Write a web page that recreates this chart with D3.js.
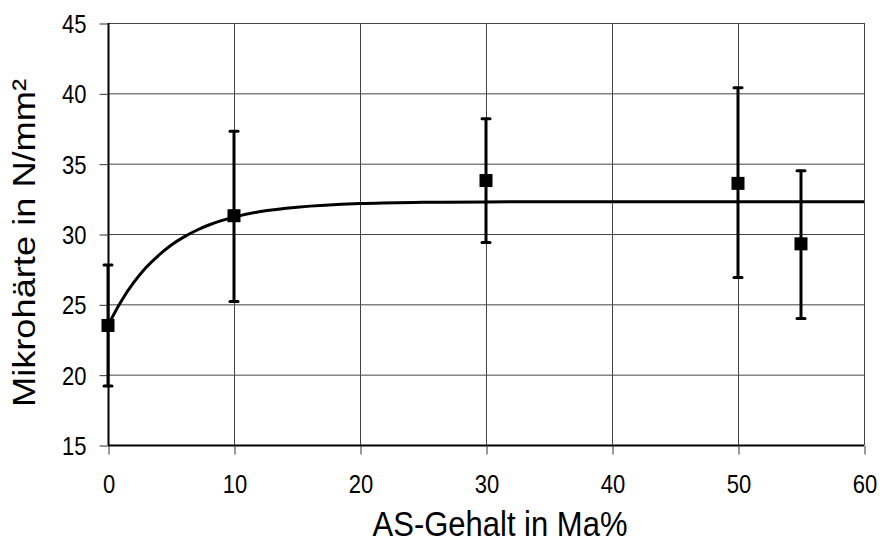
<!DOCTYPE html>
<html lang="de">
<head>
<meta charset="utf-8">
<title>Mikrohärte</title>
<script src="https://cdnjs.cloudflare.com/ajax/libs/d3/7.8.5/d3.min.js"></script>
<style>
  body { margin: 0; background: #fff; }
  svg text { font-family: "Liberation Sans", Arial, sans-serif; fill: #000; }
</style>
</head>
<body>
<div id="chart"></div>
<script>
// measured points (AS-Gehalt, Mikrohärte, error bar ends)
const xVals   = [0, 10, 30, 50, 55];
const yVals   = [23.5, 31.3, 33.8, 33.6, 29.3];
const errLow  = [19.2, 25.2, 29.4, 26.9, 24.0];
const errHigh = [27.8, 37.3, 38.2, 40.4, 34.5];

// trend line
const curveX = [0, 1, 2, 3, 4, 5, 6, 7, 8, 9, 10, 12, 15, 20, 25, 30, 40, 50, 60];
const curveY = [23.5, 25.15, 26.5, 27.6, 28.47, 29.2, 29.78, 30.25, 30.64, 30.95, 31.2, 31.58, 31.9, 32.16, 32.25, 32.28, 32.3, 32.3, 32.3];

const xTicks = [0, 10, 20, 30, 40, 50, 60];
const yTicks = [15, 20, 25, 30, 35, 40, 45];

const w = 880, h = 542;
const padL = 108, padR = 864, padT = 23, padB = 445;
const stretch = 1.15; // the source picture is a bit taller than wide

const x = d3.scaleLinear().domain([0, 60]).range([padL, padR]);
const y = d3.scaleLinear().domain([15, 45]).range([padB, padT]);

const svg = d3.select("#chart").append("svg")
  .attr("width", w).attr("height", h);

// grid
svg.append("g").selectAll("line").data(yTicks).enter().append("line")
  .attr("x1", padL).attr("x2", padR)
  .attr("y1", d => y(d) + 0.5).attr("y2", d => y(d) + 0.5)
  .attr("stroke", "#444").attr("stroke-width", 1);
svg.append("g").selectAll("line").data(xTicks).enter().append("line")
  .attr("y1", padT).attr("y2", padB)
  .attr("x1", d => x(d) + 0.5).attr("x2", d => x(d) + 0.5)
  .attr("stroke", "#444").attr("stroke-width", 1);

// axes
const yAxis = d3.axisLeft(y).tickValues(yTicks).tickSize(9);
const gy = svg.append("g").attr("transform", "translate(" + (padL + 0.5) + ",0.5)").call(yAxis);
const xAxis = d3.axisBottom(x).tickValues(xTicks).tickSize(9);
const gx = svg.append("g").attr("transform", "translate(0.5," + (padB + 0.5) + ")").call(xAxis);
[gy, gx].forEach(g => {
  g.attr("font-size", null).attr("font-family", null);
  g.select(".domain").attr("stroke", "#000").attr("stroke-width", 2);
  g.selectAll(".tick line").attr("stroke", "#333");
  g.selectAll(".tick text")
    .style("font-size", "22px")
    .style("font-family", "Liberation Sans, Arial, sans-serif")
    .attr("transform", "scale(1," + stretch + ")");
});
gy.selectAll(".tick text").attr("x", -22).attr("dy", "0.36em");
gx.selectAll(".tick text").attr("y", 48 / stretch).attr("dy", 0);
gy.select(".domain").attr("d", "M0," + (padT - 0.5) + "V" + (padB - 0.5));
gx.select(".domain").attr("d", "M" + (padL - 0.5) + ",0H" + (padR - 0.5));

// trend curve
const pts = curveX.map((d, i) => [d, curveY[i]]);
svg.append("path")
  .attr("d", d3.line().x(d => x(d[0])).y(d => y(d[1])).curve(d3.curveCatmullRom)(pts))
  .attr("fill", "none").attr("stroke", "#000").attr("stroke-width", 3);

// error bars
const data = xVals.map((d, i) => ({x: d, y: yVals[i], lo: errLow[i], hi: errHigh[i]}));
const eb = svg.append("g").selectAll("g").data(data).enter().append("g");
eb.append("line")
  .attr("x1", d => x(d.x)).attr("x2", d => x(d.x))
  .attr("y1", d => y(d.lo)).attr("y2", d => y(d.hi))
  .attr("stroke", "#000").attr("stroke-width", 3);
eb.selectAll(".cap").data(d => [[d.x, d.lo], [d.x, d.hi]]).enter().append("line")
  .attr("x1", d => x(d[0]) - 4).attr("x2", d => x(d[0]) + 4)
  .attr("y1", d => y(d[1])).attr("y2", d => y(d[1]))
  .attr("stroke", "#000").attr("stroke-width", 3).attr("stroke-linecap", "round");

// markers
svg.append("g").selectAll("rect").data(data).enter().append("rect")
  .attr("x", d => x(d.x) - 6.5).attr("y", d => y(d.y) - 6.5)
  .attr("width", 13).attr("height", 13).attr("fill", "#000");

// axis titles
svg.append("text")
  .attr("transform", "translate(500,536) scale(1," + stretch + ")")
  .attr("text-anchor", "middle").attr("font-size", 31)
  .text("AS-Gehalt in Ma%");
svg.append("text")
  .attr("transform", "translate(35,243) scale(1," + stretch + ") rotate(-90)")
  .attr("text-anchor", "middle").attr("font-size", 31.5)
  .text("Mikrohärte in N/mm²");
</script>
</body>
</html>
